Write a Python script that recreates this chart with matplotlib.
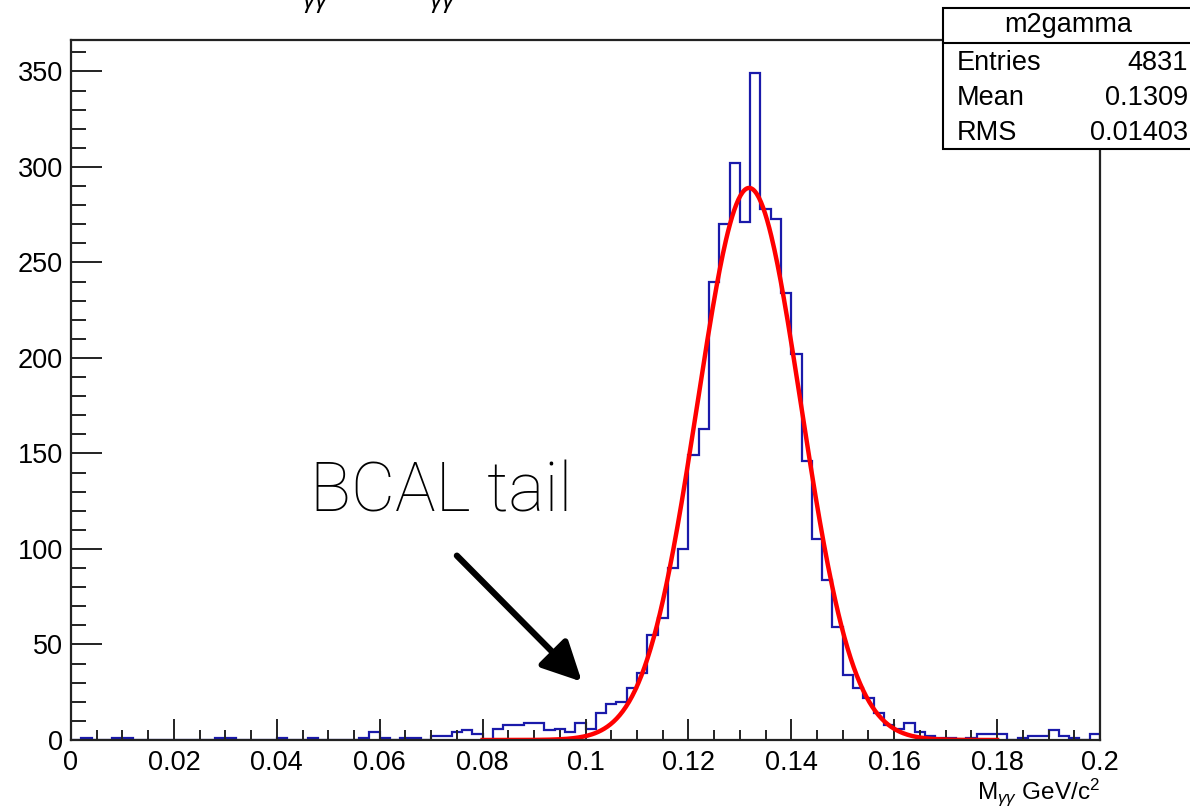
import numpy as np
import matplotlib
matplotlib.use('Agg')
import matplotlib.pyplot as plt
from matplotlib.patches import Rectangle
from matplotlib.lines import Line2D
from matplotlib.ticker import MultipleLocator, FixedLocator

# ---------------- data ----------------
counts = [0, 1, 0, 0, 1, 1, 0, 0, 0, 0,
          0, 0, 0, 0, 1, 1, 0, 0, 0, 0,
          1, 0, 0, 1, 0, 0, 0, 0, 1, 4,
          1, 0, 1, 1, 0, 2, 2, 4, 5, 3,
          0, 6, 8, 8, 9, 9, 5, 6, 4, 9,
          6, 14, 19, 20, 27, 35, 55, 64, 90, 100,
          149, 163, 240, 270, 302, 271, 349, 278, 273, 234,
          202, 146, 105, 84, 59, 34, 27, 22, 14, 8,
          6, 9, 4, 2, 1, 1, 0, 1, 3, 3,
          3, 0, 1, 2, 2, 5, 2, 1, 0, 3]
bin_lo, bin_hi, n_bins = 0.0, 0.2, 100

fit_amp, fit_mean, fit_sigma = 289.0, 0.1318, 0.0101
fit_lo, fit_hi = 0.08, 0.18

x_ticks = [0, 0.02, 0.04, 0.06, 0.08, 0.1, 0.12, 0.14, 0.16, 0.18, 0.2]
x_tick_labels = ['0', '0.02', '0.04', '0.06', '0.08', '0.1', '0.12', '0.14',
                 '0.16', '0.18', '0.2']
y_ticks = [0, 50, 100, 150, 200, 250, 300, 350]
y_tick_labels = ['0', '50', '100', '150', '200', '250', '300', '350']

stats_name = 'm2gamma'
stats_labels = ['Entries', 'Mean', 'RMS']
stats_values = ['4831', '0.1309', '0.01403']

annot_text = 'BCAL tail'
arrow_tip = (0.0993, 30.5)
arrow_start = (0.0750, 96.5)
x_title = r'M$_{\gamma\gamma}$ GeV/c$^{2}$'

# ---------------- style ----------------
plt.rcParams['font.family'] = ['Liberation Sans', 'DejaVu Sans']
plt.rcParams['mathtext.fontset'] = 'custom'
plt.rcParams['mathtext.rm'] = 'Liberation Sans'
plt.rcParams['mathtext.it'] = 'Liberation Sans:italic'

W, H = 1190, 807
fig = plt.figure(figsize=(W / 100, H / 100), dpi=100)
ax = fig.add_axes([71 / W, 1 - 740 / H, 1029 / W, 700 / H])

edges = np.linspace(bin_lo, bin_hi, n_bins + 1)
ax.stairs(counts, edges, color='#1a1aaa', lw=1.6, baseline=0)

xf = np.linspace(fit_lo, fit_hi, 500)
yf = fit_amp * np.exp(-0.5 * ((xf - fit_mean) / fit_sigma) ** 2)
ax.plot(xf, yf, color='#ff0000', lw=3.2)

ax.set_xlim(bin_lo, bin_hi)
ax.set_ylim(0, 1.05 * max(counts))

for s in ax.spines.values():
    s.set_linewidth(1.6)
    s.set_color('#222222')

ax.xaxis.set_major_locator(FixedLocator(x_ticks))
ax.set_xticklabels(x_tick_labels)
ax.xaxis.set_minor_locator(MultipleLocator(0.005))
ax.yaxis.set_major_locator(FixedLocator(y_ticks))
ax.set_yticklabels(y_tick_labels)
ax.yaxis.set_minor_locator(MultipleLocator(10))

ax.tick_params(axis='both', which='both', direction='in', top=False, right=False,
               color='#222222', width=1.4, labelsize=19.5)
ax.tick_params(axis='x', which='major', length=15, pad=7)
ax.tick_params(axis='x', which='minor', length=7.5)
ax.tick_params(axis='y', which='major', length=22, pad=6)
ax.tick_params(axis='y', which='minor', length=11)

# x title
fig.text(1100 / W, 1 - 799 / H, x_title, ha='right', va='baseline', fontsize=17.5)

# title fragments cut off at the top (as in the reference)
for xc in (316, 443):
    fig.text(xc / W, 1 - 8 / H, r'$\it{\gamma\gamma}$', ha='center', va='baseline',
             fontsize=18)

# annotation
ax.annotate('', xy=arrow_tip, xytext=arrow_start, xycoords='data',
            arrowprops=dict(arrowstyle='-|>,head_length=1.2,head_width=0.6',
                            color='black', lw=4.5, mutation_scale=20,
                            shrinkA=0, shrinkB=0))
fig.text(310 / W, 1 - 512 / H, annot_text, ha='left', va='baseline',
         fontsize=49, family=['Roboto', 'Liberation Sans'], fontweight='light')

# stats box
bx0, by_top, by_bot, by_sep = 943, 8, 149, 42.7
fig.add_artist(Rectangle((bx0 / W, 1 - by_bot / H), (W + 20 - bx0) / W,
                         (by_bot - by_top) / H, transform=fig.transFigure,
                         facecolor='white', edgecolor='black', lw=1.5, zorder=10))
fig.add_artist(Line2D([bx0 / W, 1.0], [1 - by_sep / H] * 2, transform=fig.transFigure,
                      color='black', lw=1.5, zorder=11))
fig.text(1068 / W, 1 - 25 / H, stats_name, ha='center', va='center', fontsize=19.5,
         zorder=12)
row_y = [63, 98, 133]
for lab, val, ry in zip(stats_labels, stats_values, row_y):
    fig.text(957 / W, 1 - ry / H, lab, ha='left', va='center', fontsize=19.5, zorder=12)
    fig.text(1188 / W, 1 - ry / H, val, ha='right', va='center', fontsize=19.5, zorder=12)

fig.savefig('out.png', dpi=100)
